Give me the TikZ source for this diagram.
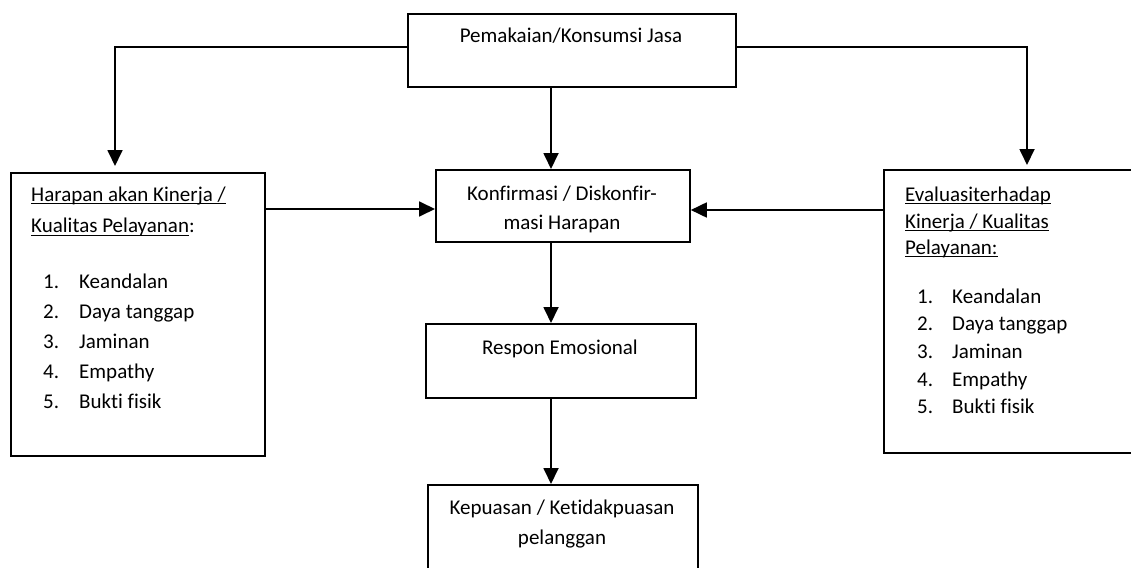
\documentclass[tikz,border=0pt]{standalone}
\usepackage{fontspec}
\setmainfont{Carlito}[Ligatures={NoCommon}]
\usetikzlibrary{arrows.meta,calc}
\newcommand\myul[1]{\setbox0\hbox{#1}\rlap{\rule[-3.4pt]{\wd0}{1.3pt}}\box0}
\tikzset{
  boxnode/.style={draw=black, line width=1.8pt, anchor=north west, inner sep=0pt, fill=none},
  txt/.style={inner sep=0pt, font=\fontsize{21}{25}\selectfont, text=black},
  ctxt/.style={txt, anchor=base},
  ltxt/.style={txt, anchor=base west},
  conn/.style={line width=1.8pt, draw=black},
  arr/.style={conn, -{Triangle[length=16pt,width=15pt]}},
}
\begin{document}
\begin{tikzpicture}[x=1pt,y=-1pt]
\useasboundingbox[fill=white] (0,0) rectangle (1131,567);
\clip (0,0) rectangle (1131,567);
% boxes
\node[boxnode, minimum width=328pt, minimum height=73pt] (top) at (407,13) {};
\node[boxnode, minimum width=254pt, minimum height=72pt] (konf) at (435,169) {};
\node[boxnode, minimum width=254pt, minimum height=283pt] (harapan) at (10,172) {};
\node[boxnode, minimum width=262pt, minimum height=283pt] (eval) at (883,169) {};
\node[boxnode, minimum width=270pt, minimum height=74pt] (respon) at (425,323) {};
\node[boxnode, minimum width=270pt, minimum height=110pt] (kepuasan) at (427,484) {};
% texts (baselines)
\node[ctxt] (toptxt) at (571,43) {Pemakaian/Konsumsi Jasa};
\node[ctxt] (konfa) at (562,200) {Konfirmasi / Diskonfir-};
\node[ctxt] (konfb) at (562,229.5) {masi Harapan};
\node[ctxt] (respontxt) at (560,354) {Respon Emosional};
\node[ctxt] (kepa) at (562,514) {Kepuasan / Ketidakpuasan};
\node[ctxt] (kepb) at (562,544) {pelanggan};
% left box text
\node[ltxt] (ha) at (31,201) {\myul{Harapan akan Kinerja /}};
\node[ltxt] (hb) at (31,232.5) {\myul{Kualitas Pelayanan}:};
\foreach \i/\t in {1/Keandalan,2/Daya tanggap,3/Jaminan,4/Empathy,5/Bukti fisik}{
  \node[ltxt] (hn\i) at (43,{288.5+30*(\i-1)}) {\i.};
  \node[ltxt] (ht\i) at (79,{288.5+30*(\i-1)}) {\t};
}
% right box text
\node[ltxt] (ea) at (905,201) {\myul{Evaluasiterhadap}};
\node[ltxt] (eb) at (905,228) {\myul{Kinerja / Kualitas}};
\node[ltxt] (ec) at (905,254) {\myul{Pelayanan:}};
\foreach \i/\t in {1/Keandalan,2/Daya tanggap,3/Jaminan,4/Empathy,5/Bukti fisik}{
  \node[ltxt] (en\i) at (917,{303+27.7*(\i-1)}) {\i.};
  \node[ltxt] (et\i) at (952,{303+27.7*(\i-1)}) {\t};
}
% connectors
\coordinate (tl) at ($(top.north west)+(0,34)$);
\coordinate (tr) at ($(top.north east)+(0,34)$);
\coordinate (hin) at ($(harapan.north west)+(105,0)$);
\coordinate (ein) at ($(eval.north west)+(144,0)$);
\draw[arr, shorten >=6pt] (tl) -| (hin);
\draw[arr, shorten >=4pt] (tr) -| (ein);
\coordinate (tb) at ($(top.south west)+(144,0)$);
\coordinate (kt) at ($(konf.north west)+(116,0)$);
\draw[arr] (tb) -- (kt);
\coordinate (kl) at ($(konf.north west)+(0,40)$);
\coordinate (kr) at ($(konf.north east)+(0,41)$);
\draw[arr] (harapan.east |- kl) -- (kl);
\draw[arr] (eval.west |- kr) -- (kr);
\coordinate (kb) at ($(konf.south west)+(116,0)$);
\coordinate (rt) at ($(respon.north west)+(126,0)$);
\draw[arr] (kb) -- (rt);
\coordinate (rb) at ($(respon.south west)+(126,0)$);
\coordinate (pt) at ($(kepuasan.north west)+(124,0)$);
\draw[arr] (rb) -- (pt);
\end{tikzpicture}
\end{document}
